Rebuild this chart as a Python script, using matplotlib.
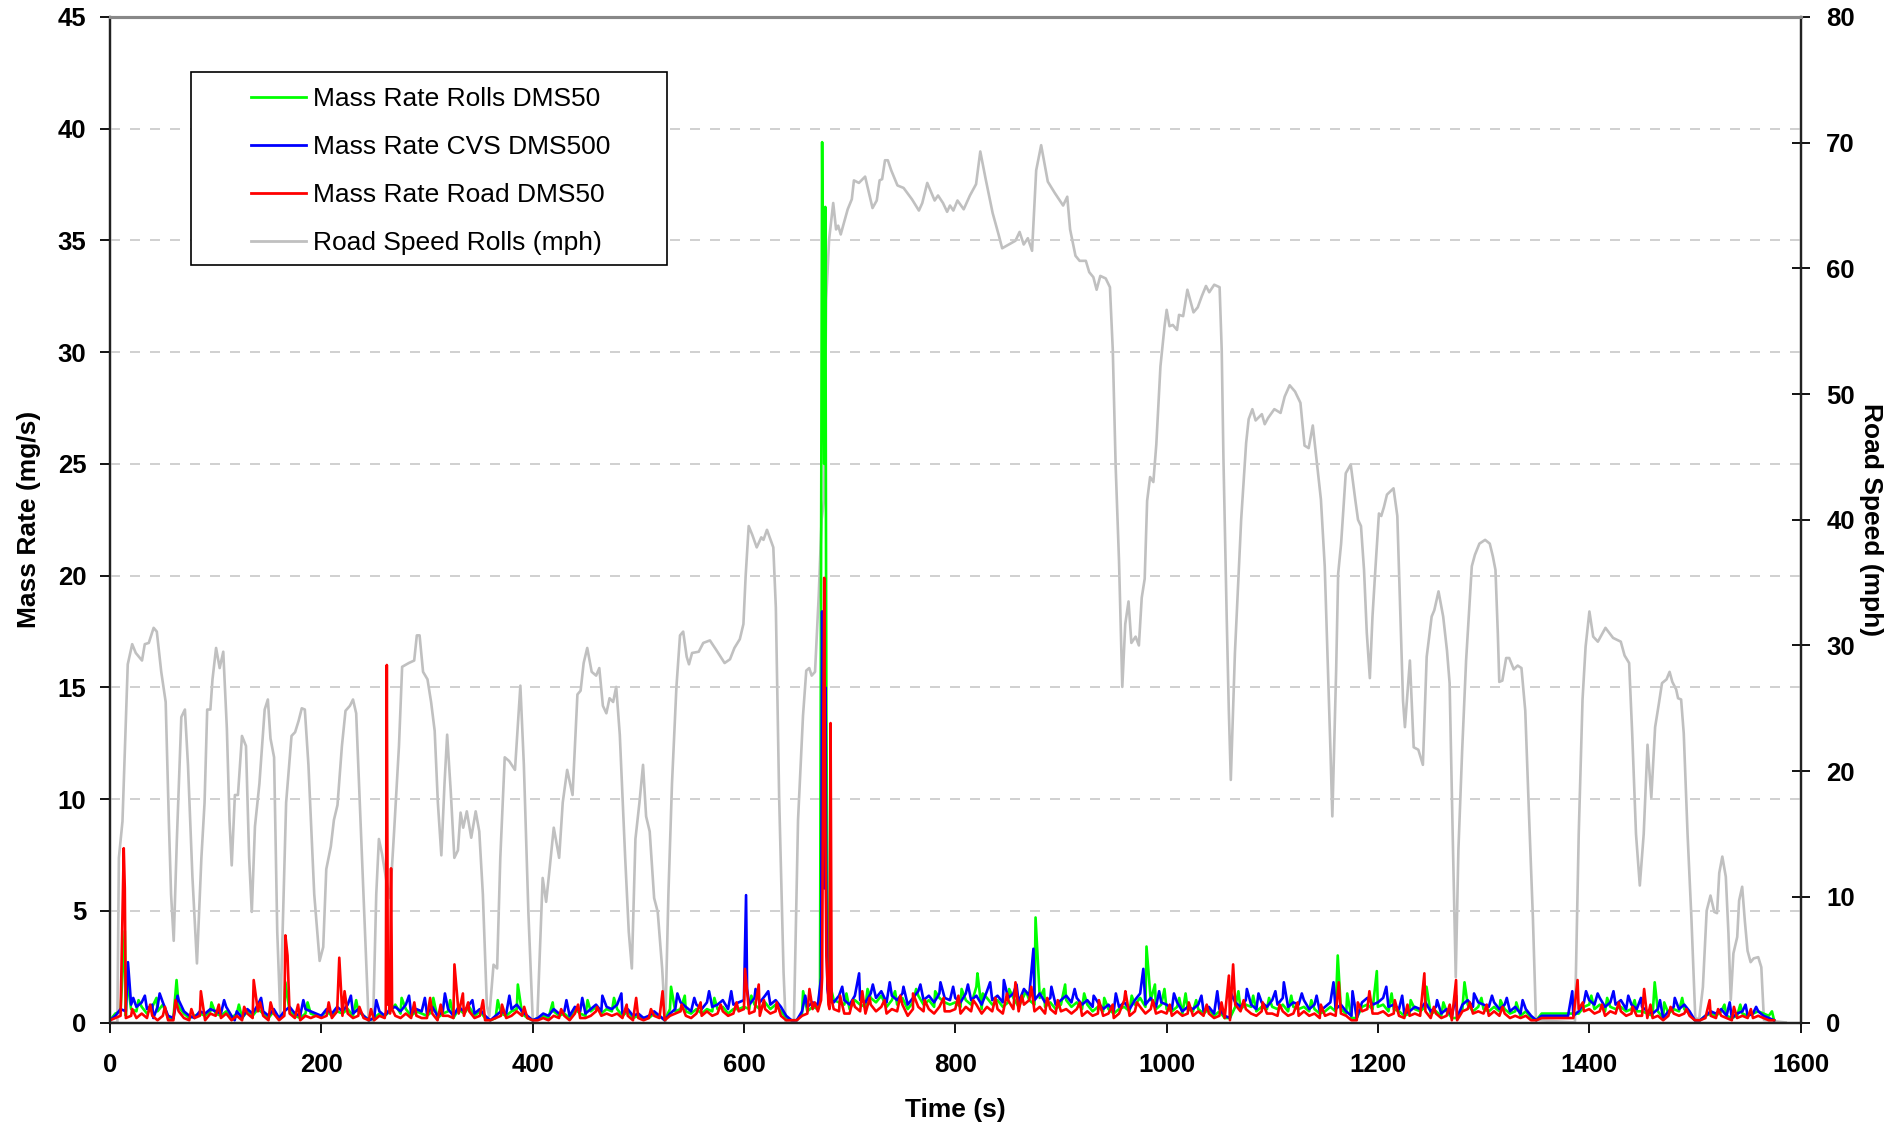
# mass rate (3 instruments) vs road speed over the drive cycle
# dual y axis: mass rate (mg/s) left, road speed (mph) right

import matplotlib
matplotlib.use('Agg')
import matplotlib.pyplot as plt
from matplotlib.patches import Rectangle
import numpy as np

plt.rcParams['font.family'] = ['Liberation Sans', 'DejaVu Sans']

## data

# mass rate base traces, one value every 5 s from t = 0 to 1575 s
step = 5
rolls_dms50 = [
    0.1,0.4,0.5,0.3,0.6,0.5,0.7,0.4,0.7,0.5,0.8,0.2,0.2,0.7,0.4,0.2,0.3,0.4,0.3,0.5,
    0.4,0.3,0.5,0.2,0.4,0.2,0.5,0.3,0.6,0.4,0.2,0.5,0.2,0.4,0.5,0.3,0.2,0.4,0.4,0.3,
    0.3,0.5,0.3,0.5,0.4,0.6,0.3,0.5,0.3,0.1,0.2,0.4,0.3,0.5,0.8,0.4,0.6,0.3,0.5,0.4,
    0.3,0.5,0.2,0.4,0.5,0.2,0.6,0.4,0.7,0.3,0.5,0.2,0.1,0.2,0.4,0.3,0.5,0.6,0.4,0.2,
    0.1,0.2,0.3,0.2,0.5,0.3,0.4,0.2,0.6,0.4,0.3,0.5,0.7,0.4,0.6,0.5,0.6,0.3,0.5,0.2,
    0.3,0.2,0.2,0.4,0.3,0.1,0.6,0.5,0.6,0.5,0.4,0.6,0.4,0.6,0.5,0.6,0.7,0.4,0.6,0.6,
    0.7,0.6,0.8,0.6,0.9,0.6,0.8,0.5,0.2,0.1,0.1,0.4,0.5,0.7,0.6,30.0,2.0,1.0,0.9,0.8,
    0.6,1.0,0.8,0.7,1.1,0.9,1.2,0.7,1.0,0.8,1.1,0.6,0.9,1.2,0.8,1.0,0.7,1.1,0.9,0.8,
    0.9,0.7,1.0,0.8,1.6,0.6,1.1,0.8,1.0,0.7,0.9,1.1,0.7,1.2,1.0,0.8,1.1,0.7,0.9,0.6,
    0.8,1.0,0.7,0.9,0.6,0.8,0.5,0.7,0.5,0.6,0.4,0.6,0.7,0.5,0.8,1.1,0.7,1.0,0.6,0.8,
    0.6,0.5,0.7,0.4,0.6,0.5,0.6,0.4,0.6,0.3,0.5,0.2,0.2,0.7,0.6,0.8,0.7,0.5,0.7,0.6,
    0.7,0.6,0.8,0.5,0.7,0.6,0.7,0.5,0.6,0.4,0.5,0.7,0.5,0.6,0.4,0.2,0.2,0.7,0.8,0.6,
    0.7,0.8,0.5,0.6,0.5,0.3,0.4,0.6,0.5,0.7,0.4,0.5,0.3,0.5,0.2,0.2,0.6,0.8,0.5,0.7,
    0.6,0.5,0.7,0.5,0.6,0.4,0.5,0.3,0.5,0.2,0.1,0.4,0.4,0.4,0.4,0.4,0.4,0.4,0.4,0.7,
    0.8,0.6,0.8,0.5,0.7,0.6,0.7,0.5,0.6,0.5,0.5,0.4,0.3,0.5,0.2,0.4,0.6,0.5,0.6,0.4,
    0.1,0.1,0.3,0.4,0.3,0.5,0.3,0.2,0.3,0.4,0.3,0.4,0.5,0.4,0.3,0.1]
cvs_dms500 = [
    0.1,0.3,0.6,0.5,0.8,0.7,0.9,0.6,0.8,0.7,0.9,0.3,0.2,1.0,0.5,0.3,0.2,0.5,0.4,0.6,
    0.5,0.4,0.7,0.3,0.5,0.2,0.6,0.4,0.8,0.5,0.3,0.6,0.2,0.5,0.7,0.4,0.3,0.6,0.5,0.4,
    0.3,0.6,0.4,0.7,0.5,0.8,0.4,0.6,0.3,0.1,0.2,0.5,0.3,0.6,0.7,0.5,0.8,0.4,0.6,0.5,
    0.4,0.7,0.3,0.5,0.6,0.3,0.7,0.5,0.8,0.4,0.6,0.3,0.1,0.3,0.5,0.4,0.6,0.8,0.5,0.3,
    0.1,0.2,0.4,0.3,0.6,0.4,0.5,0.3,0.7,0.5,0.4,0.6,0.8,0.5,0.7,0.6,0.8,0.4,0.6,0.3,
    0.4,0.2,0.3,0.5,0.3,0.1,0.4,0.6,0.9,0.7,0.5,0.8,0.6,0.9,0.7,0.8,1.0,0.6,0.8,0.9,
    1.0,0.8,1.1,0.9,1.2,0.8,1.0,0.7,0.3,0.1,0.1,0.5,0.7,0.9,0.8,10.0,1.2,0.9,1.2,1.0,
    0.8,1.2,1.0,0.9,1.3,1.1,1.4,0.9,1.2,1.0,1.3,0.8,1.1,1.4,1.0,1.2,0.9,1.3,1.1,1.0,
    1.1,0.9,1.3,1.0,1.2,0.8,1.4,1.0,1.2,0.9,1.1,1.3,0.9,1.5,1.2,1.0,1.3,0.9,1.1,0.8,
    1.0,1.2,0.9,1.1,0.8,1.0,0.7,0.9,0.6,0.8,0.5,0.7,0.9,0.6,1.0,1.3,0.8,1.1,0.7,0.9,
    0.8,0.6,0.9,0.5,0.7,0.6,0.8,0.5,0.7,0.4,0.6,0.3,0.2,0.9,0.7,1.0,0.8,0.6,0.9,0.7,
    1.0,0.8,1.1,0.7,0.9,0.8,1.0,0.6,0.8,0.5,0.7,0.9,0.6,0.8,0.5,0.3,0.2,0.9,1.1,0.8,
    0.9,1.1,0.7,0.8,0.6,0.4,0.5,0.7,0.6,0.9,0.5,0.7,0.4,0.6,0.3,0.2,0.8,1.0,0.7,0.9,
    0.8,0.7,0.9,0.6,0.8,0.5,0.7,0.4,0.6,0.3,0.1,0.3,0.3,0.3,0.3,0.3,0.3,0.3,0.5,0.9,
    1.0,0.8,1.1,0.7,0.9,0.8,1.0,0.6,0.8,0.6,0.7,0.5,0.4,0.6,0.2,0.5,0.7,0.6,0.8,0.5,
    0.1,0.1,0.3,0.5,0.4,0.6,0.3,0.2,0.4,0.5,0.3,0.4,0.5,0.3,0.2,0.1]
road_dms50 = [
    0.1,0.2,0.3,0.2,0.3,0.2,0.4,0.2,0.3,0.1,0.3,0.1,0.1,0.5,0.2,0.1,0.2,0.3,0.1,0.4,
    0.3,0.2,0.4,0.1,0.3,0.1,0.4,0.2,0.5,0.3,0.1,0.4,0.1,0.3,0.4,0.2,0.1,0.3,0.2,0.3,
    0.2,0.3,0.2,0.5,0.3,0.4,0.2,0.3,0.2,0.1,0.1,0.3,0.2,0.4,0.3,0.2,0.4,0.2,0.3,0.2,
    0.2,0.4,0.1,0.3,0.3,0.2,0.4,0.3,0.5,0.2,0.3,0.1,0.1,0.2,0.3,0.2,0.3,0.5,0.3,0.2,
    0.1,0.1,0.2,0.1,0.3,0.2,0.3,0.1,0.4,0.2,0.2,0.3,0.5,0.3,0.4,0.3,0.4,0.2,0.3,0.1,
    0.2,0.1,0.2,0.3,0.2,0.1,0.3,0.4,0.5,0.3,0.2,0.4,0.3,0.5,0.3,0.4,0.5,0.3,0.4,0.5,
    0.6,0.4,0.5,0.3,0.6,0.4,0.5,0.3,0.1,0.1,0.1,0.3,0.4,0.6,0.5,12.0,0.8,0.6,0.5,0.4,
    0.4,0.7,0.5,0.4,0.8,0.5,0.7,0.4,0.6,0.5,0.8,0.3,0.6,0.7,0.5,0.6,0.4,0.7,0.5,0.5,
    0.6,0.4,0.7,0.5,0.8,0.4,0.7,0.5,0.6,0.4,1.0,0.6,0.5,0.8,1.0,0.5,0.7,0.4,0.6,0.4,
    0.5,0.6,0.4,0.6,0.3,0.5,0.3,0.4,0.3,0.4,0.2,0.4,1.0,0.3,0.5,0.7,0.4,0.6,0.4,0.5,
    0.4,0.3,0.5,0.3,0.4,0.3,0.5,0.3,0.4,0.2,0.3,0.2,0.1,0.8,0.5,0.6,0.4,0.3,0.5,0.4,
    0.4,0.3,0.5,0.3,0.4,0.3,0.5,0.3,0.4,0.2,0.3,0.4,0.3,0.4,0.3,0.1,0.1,0.5,0.6,0.4,
    0.4,0.5,0.3,0.4,0.3,0.2,0.3,0.4,0.3,0.5,0.2,0.4,0.2,0.3,0.1,0.1,0.5,0.6,0.4,0.5,
    0.4,0.3,0.5,0.3,0.4,0.2,0.3,0.2,0.3,0.1,0.1,0.2,0.2,0.2,0.2,0.2,0.2,0.2,0.6,0.5,
    0.6,0.4,0.5,0.3,0.5,0.4,0.5,0.3,0.4,0.3,0.3,0.2,0.2,0.3,0.1,0.3,0.4,0.3,0.4,0.3,
    0.1,0.1,0.2,0.3,0.2,0.3,0.2,0.1,0.2,0.3,0.2,0.2,0.3,0.2,0.1,0.1]

# short spikes (time s, mg/s) between the 5 s samples
rolls_spikes = [(14, 4.1), (16, 2.0), (27, 1.0), (44, 1.1), (63, 1.9), (96, 0.9), (122, 0.8),
                (166, 1.8), (187, 0.9), (233, 1.0), (276, 1.1), (306, 1.1), (322, 1.0),
                (367, 1.0), (386, 1.7), (419, 0.9), (452, 1.0), (477, 1.1), (531, 1.6),
                (544, 1.2), (572, 1.1), (607, 1.2), (656, 1.4),
                (672, 1.5), (674, 39.4), (676, 25.0), (677, 36.5), (678, 14.0), (679, 6.0),
                (697, 1.3), (717, 1.5), (743, 1.4), (763, 1.5), (781, 1.4), (806, 1.5),
                (821, 2.2), (826, 1.3), (851, 1.5), (867, 1.4), (876, 4.7), (884, 1.5),
                (904, 1.7), (922, 1.3), (941, 1.1), (967, 1.2), (981, 3.4), (989, 1.7),
                (998, 1.5), (1012, 1.1), (1018, 1.3), (1028, 1.0), (1068, 1.4), (1082, 1.2),
                (1097, 1.1), (1118, 1.2), (1137, 1.0), (1162, 3.0), (1171, 1.3), (1199, 2.3),
                (1213, 1.3), (1231, 1.0), (1246, 1.6), (1262, 0.9), (1282, 1.8), (1298, 1.1),
                (1316, 1.0), (1331, 0.9), (1402, 1.2), (1417, 1.1), (1443, 1.0), (1462, 1.8),
                (1471, 0.9), (1488, 1.1), (1528, 0.8), (1543, 0.8), (1573, 0.5)]
cvs_spikes = [(17, 2.7), (22, 1.1), (33, 1.2), (41, 0.2), (47, 1.3), (64, 1.2), (108, 1.0),
              (118, 0.1), (143, 1.1), (183, 1.0), (228, 1.2), (252, 1.0), (283, 1.2),
              (298, 1.1), (317, 1.3), (343, 1.0), (378, 1.2), (432, 1.0), (447, 1.1),
              (466, 1.2), (484, 1.3), (537, 1.3), (553, 1.1), (567, 1.4), (588, 1.4),
              (602, 5.7), (603, 1.5), (611, 1.5), (623, 1.4), (658, 1.2),
              (673, 2.0), (674, 18.4), (676, 6.0), (677, 15.0), (678, 5.0), (679, 1.5),
              (693, 1.6), (709, 2.2), (722, 1.7), (738, 1.8), (751, 1.6), (767, 1.7),
              (786, 1.8), (798, 1.6), (812, 1.7), (833, 1.8), (846, 1.9), (858, 1.7),
              (874, 3.3), (891, 1.6), (913, 1.5), (931, 1.2), (952, 1.3), (978, 2.4),
              (993, 1.4), (1007, 1.3), (1033, 1.2), (1048, 1.4), (1061, 1.3), (1076, 1.5),
              (1087, 1.3), (1103, 1.4), (1111, 1.8), (1128, 1.3), (1142, 1.2), (1158, 1.8),
              (1176, 1.4), (1191, 1.1), (1208, 1.6), (1223, 1.2), (1256, 1.0), (1274, 1.2),
              (1291, 1.3), (1308, 1.2), (1322, 1.1), (1337, 1.0), (1384, 1.4), (1397, 1.4),
              (1408, 1.3), (1423, 1.4), (1437, 1.2), (1449, 1.1), (1467, 1.0), (1481, 1.1),
              (1533, 0.9), (1548, 0.8), (1558, 0.7)]
road_spikes = [(13, 7.8), (14, 6.0), (21, 0.6), (38, 0.8), (52, 0.7), (62, 1.0), (77, 0.6),
               (86, 1.4), (103, 0.8), (127, 0.7), (136, 1.9), (142, 0.9), (152, 0.9),
               (166, 3.9), (168, 3.0), (178, 0.8), (207, 0.9), (217, 2.9), (222, 1.4),
               (236, 0.7), (247, 0.6),
               (261, 0.5), (262, 16.0), (263, 0.8), (264, 1.0), (266, 6.9), (267, 0.6),
               (288, 0.9), (303, 1.1), (313, 0.8), (326, 2.6), (334, 1.3), (339, 0.9),
               (353, 1.0), (371, 0.8), (392, 0.7), (427, 0.6), (443, 0.8), (461, 0.7),
               (489, 0.8), (498, 1.1), (512, 0.6), (523, 1.4), (541, 0.8), (559, 0.9),
               (578, 0.8), (593, 0.9), (601, 2.4), (614, 1.7), (619, 1.0), (631, 0.9),
               (662, 1.5), (667, 0.9),
               (673, 1.0), (674, 2.0), (676, 19.9), (677, 9.0), (678, 3.0),
               (681, 0.6), (682, 13.4), (683, 1.0),
               (691, 1.2), (703, 1.0), (712, 1.4), (719, 1.1), (733, 1.0), (748, 1.2),
               (760, 1.3), (771, 1.0), (789, 1.1), (803, 1.2), (817, 1.0), (838, 1.1),
               (849, 1.3), (857, 1.8), (863, 1.2), (872, 1.6), (887, 1.1), (897, 1.0),
               (918, 0.9), (936, 1.0), (949, 0.8), (961, 1.4), (972, 0.9), (987, 1.0),
               (1003, 0.8), (1021, 0.9), (1038, 0.8), (1052, 0.9), (1059, 2.1), (1063, 2.6),
               (1073, 1.0), (1091, 0.9), (1107, 0.8), (1124, 0.9), (1146, 0.8), (1163, 1.8),
               (1181, 0.9), (1192, 1.4), (1216, 1.0), (1228, 0.8), (1244, 2.2), (1253, 0.7),
               (1268, 0.8), (1274, 1.9), (1287, 0.9), (1303, 0.8), (1318, 0.7), (1389, 1.9),
               (1394, 0.9), (1412, 0.8), (1428, 0.9), (1441, 0.7), (1452, 1.5), (1458, 0.8),
               (1477, 0.7), (1492, 0.6), (1514, 1.0), (1522, 0.6), (1537, 0.7), (1553, 0.6)]

# road speed trace (time s, mph)
speed_t = [0, 7, 8.4, 11.8, 16.8, 21, 24.4, 30.3, 32.9, 36.7, 41.3, 44.3, 48.5, 52.7, 55.7,
           57.8, 60.3, 63.3, 67.5, 70.9, 73.8, 78, 82.3, 86.5, 89.5, 92, 95, 97, 100.4,
           103.8, 107.2, 110.6, 113.1, 115.2, 118.2, 121.1, 124.9, 128.7, 131.7, 134.2,
           137.2, 141.4, 146.4, 149.4, 151.9, 155.3, 158.3, 161.2, 166.7, 171.8, 175.2,
           178.5, 181.5, 184.4, 187.8, 193.3, 198.4, 201.8, 204.7, 209, 211.9, 215.3,
           219.5, 222.9, 227.1, 230, 233, 236.4, 240.6, 244.8, 249, 252, 254.5, 257.5,
           261.7, 265.1, 268.9, 273.5, 276.5, 282.8, 287.9, 290.4, 293, 296.3, 300.5,
           303.9, 307.3, 310.3, 313.6, 316.6, 319.1, 322.5, 325.9, 329.3, 331.8, 334.3,
           337.7, 341.9, 346.1, 349.5, 352.9, 356.7, 359, 363, 366.4, 369.4, 373.6,
           377.8, 383.3, 388.4, 391.7, 396, 400.2, 404.4, 409.5, 412.8, 415.8, 420,
           425.1, 428.5, 432.7, 437.8, 442.4, 445.4, 448.3, 451.7, 455.9, 460.1, 463.1,
           466.5, 469.8, 472.8, 476.2, 479.1, 482.5, 487.6, 491, 493.9, 497.3, 501.1,
           504.5, 507.4, 510.8, 515, 518.4, 522.6, 525.6, 528.5, 531.9, 536.1, 539.5,
           542.5, 545.8, 548, 550.9, 557.2, 561.5, 567.8, 574.1, 581.7, 586.8, 591,
           596.1, 599.5, 601.6, 604.5, 607.9, 612.1, 616.4, 618.5, 621.8, 624.8, 627.8,
           630.2, 633.3, 637.5, 639.5, 647.3, 651.2, 655.9, 659, 661.8, 664.1, 667.3,
           670.8, 673.5, 675.9, 677.8, 680.6, 684.5, 687.2, 689.2, 691.6, 695.5, 698.2,
           702.1, 704.1, 708.8, 714.7, 721.7, 725.7, 728.4, 730.8, 733.5, 736.2, 739.4,
           745.3, 751.1, 759, 765.6, 768.8, 773.5, 780.5, 783.7, 788.4, 792.3, 795,
           798.2, 802.1, 808, 813.9, 819.7, 823.7, 828.8, 835.4, 841.3, 844.4, 857,
           860.9, 864.8, 868.7, 872.7, 876.6, 881.3, 887.6, 894.2, 902.1, 906, 908.7,
           913.8, 917.7, 923.6, 926.8, 930.7, 933.8, 937.3, 942.4, 946.4, 949.1, 951.8,
           955, 958.1, 960.9, 964, 966.7, 970.7, 973.8, 976.5, 979.3, 981.6, 984.4,
           987.5, 990.3, 994.2, 998.1, 1000.1, 1002.8, 1005.9, 1009.9, 1011.8, 1015.7,
           1019.7, 1025.5, 1029.5, 1033.4, 1037.3, 1040.4, 1045.1, 1050.2, 1052.2,
           1053.8, 1056.9, 1058.9, 1060.8, 1064.7, 1070.6, 1075.3, 1077.7, 1081.2,
           1084.3, 1090.2, 1092.9, 1096.1, 1102, 1107.9, 1111.8, 1116.5, 1121.6, 1126.7,
           1130.6, 1134.5, 1138.4, 1142.3, 1146.1, 1149.7, 1152.2, 1155.1, 1156.9,
           1160.5, 1162.4, 1165.2, 1169.6, 1174.3, 1178.6, 1181.2, 1184, 1186.9, 1189.5,
           1192.4, 1194.9, 1197.8, 1201, 1203.2, 1205.7, 1208.6, 1214.8, 1218.4, 1220.9,
           1223.8, 1225.6, 1230.3, 1233.9, 1238.3, 1242.6, 1246.2, 1250.9, 1253.4,
           1257.4, 1261.8, 1265.4, 1267.9, 1270.8, 1273.7, 1276.2, 1279.8, 1283.5, 1286,
           1288.9, 1291.8, 1296.1, 1301.5, 1305.9, 1308.8, 1311.3, 1313.5, 1314.9,
           1317.8, 1321.4, 1324.3, 1328.6, 1332.3, 1335.9, 1339.5, 1343.1, 1346.7,
           1349.6, 1386.5, 1390.1, 1393.7, 1396.6, 1400.2, 1403.8, 1408.2, 1415.4,
           1422.6, 1429.9, 1433.5, 1437.8, 1440.7, 1444.3, 1447.9, 1451.6, 1455.2,
           1458.8, 1462.4, 1466, 1468.9, 1473.2, 1476.1, 1478.7, 1482.3, 1484.1, 1487,
           1489.5, 1493.1, 1496.7, 1500.4, 1504, 1507.6, 1511.2, 1514.8, 1518.4, 1521,
           1523.1, 1526, 1529.3, 1531.8, 1534, 1536.5, 1540.1, 1541.9, 1544.8, 1547.3,
           1549.9, 1552.8, 1555.7, 1560, 1562.9, 1565.4, 1586]
speed_mph = [0, 0, 13.1, 16, 28.5, 30.1, 29.4, 28.8, 30.1, 30.2, 31.4, 31.1, 27.9, 25.5, 16,
             10.2, 6.5, 14.6, 24.3, 24.9, 20.5, 11.6, 4.7, 13.1, 17.5, 24.9, 24.9, 27.3, 29.8,
             28.2, 29.5, 23.4, 16.1, 12.5, 18.1, 18.1, 22.8, 22, 13.1, 8.8,
             15.6, 19, 24.9, 25.7, 22.6, 21.1, 7.2, 0.5, 17.5, 22.8, 23.1,
             24, 25, 24.9, 20.5, 10.2, 4.9, 6, 12.2, 14, 16.1, 17.3,
             22, 24.8, 25.2, 25.7, 24.6, 17.5, 8.7, 0, 0, 10.2, 14.6, 13.4,
             11.2, 9.9, 15.2, 22, 28.3, 28.6, 28.8, 30.8, 30.8, 27.9, 27.3,
             25.5, 23.2, 17.5, 13.3, 19, 22.9, 18.4, 13.1, 13.7, 16.7, 15.5,
             16.8, 14.7, 16.8, 15.2, 10.2, 1.3, 0.5, 4.6, 4.3, 13.1, 21.1,
             20.8, 20.1, 26.8, 20.5, 8.7, 0, 0.2, 11.5, 9.6, 12, 15.5,
             13.1, 17.5, 20.1, 18.1, 26.1, 26.4, 28.6, 29.8, 27.9, 27.6, 28.2,
             25.2, 24.6, 25.8, 25.5, 26.7, 22.9, 13.1, 7.2, 4.3, 14.6, 17.5,
             20.5, 16.4, 15.2, 9.9, 8.8, 4.3, 0, 10.2, 19, 26.7, 30.8,
             31.1, 29.1, 28.5, 29.4, 29.5, 30.2, 30.4, 29.6, 28.6, 28.9, 29.8,
             30.5, 31.7, 35.5, 39.5, 38.8, 37.8, 38.6, 38.4, 39.2, 38.5, 37.8,
             33, 18, 4, 0, 0, 16.1, 24.4, 28, 28.2, 27.6, 27.9,
             34, 40, 41.6, 57.5, 62.3, 65.2, 63.1, 63.4, 62.7, 63.9, 64.7,
             65.5, 67, 66.8, 67.3, 64.8, 65.4, 67, 67.1, 68.6, 68.6, 67.8,
             66.6, 66.4, 65.5, 64.6, 65.2, 66.8, 65.4, 65.8, 65.2, 64.5, 65,
             64.6, 65.4, 64.7, 65.8, 66.7, 69.3, 67.1, 64.4, 62.6, 61.6, 62.2,
             62.9, 61.9, 62.4, 61.4, 67.8, 69.8, 66.9, 66, 65, 65.7, 63.1,
             61, 60.6, 60.6, 59.7, 59.3, 58.3, 59.4, 59.2, 58.5, 53.5, 44.3,
             36.7, 26.7, 31.7, 33.5, 30.2, 30.7, 30, 33.8, 35.3, 41.5, 43.4,
             43, 46, 52.2, 55.4, 56.7, 55.4, 55.5, 55.1, 56.3, 56.2,
             58.3, 56.5, 56.9, 57.8, 58.6, 58.1, 58.7, 58.5, 53.5,
             45, 32.3, 24.9, 19.3, 29.4, 40, 46.1, 48, 48.8,
             47.9, 48.4, 47.6, 48.1, 48.8, 48.5, 49.8, 50.7, 50.2, 49.3,
             45.9, 45.7, 47.5, 44.5, 41.6, 36.3, 29.6, 21.7, 16.4,
             28, 35.7, 38.1, 43.7, 44.4, 41.6, 40, 39.5, 36, 31,
             27.4, 32.3, 36.3, 40.5, 40.3, 41, 42, 42.5, 40.3, 33.6,
             25.6, 23.5, 28.8, 21.9, 21.7, 20.5, 29.1, 32.3, 32.8,
             34.3, 32.3, 29.6, 27, 15, 3.6, 13.7, 21.7, 28.8, 32.3,
             36.3, 37.2, 38.1, 38.4, 38.1, 37.1, 36, 31, 27.1,
             27.2, 29, 29, 28.1, 28.4, 28.2, 24.8, 16.4, 8.4,
             0.2, 0, 15, 25.7, 29.9, 32.7, 30.7, 30.3, 31.4,
             30.6, 30.3, 29.2, 28.6, 23, 15, 10.9, 15, 22.1,
             17.9, 23.5, 25.4, 27, 27.3, 27.9, 27.1, 26.5, 25.8, 25.7,
             23, 15, 8.4, 0.4, 0.2, 2.8, 8.9, 10.1, 8.8, 8.7,
             11.9, 13.2, 11.6, 7.1, 1.8, 5.5, 6.8, 9.7, 10.8, 8.1,
             5.7, 4.8, 5.1, 5.2, 4.4, 0.2, 0]


def merge_trace(base, spikes):
    # put the 5 s samples and the spike samples together in time order
    t = [i * step for i in range(len(base))] + [s[0] for s in spikes]
    v = list(base) + [s[1] for s in spikes]
    order = np.argsort(t, kind='stable')
    return np.array(t)[order], np.array(v)[order]


## plotting

fig = plt.figure(figsize=(18.92, 11.25), dpi=100)
ax = fig.add_axes([0.05814, 0.09111, 0.8935, 0.89378])
ax2 = ax.twinx()

lw = 1.9
ax2.plot(speed_t, speed_mph, color='#c0c0c0', lw=lw, label='Road Speed Rolls (mph)')
t, v = merge_trace(rolls_dms50, rolls_spikes)
l1, = ax.plot(t, v, color='#00ff00', lw=lw, label='Mass Rate Rolls DMS50')
t, v = merge_trace(cvs_dms500, cvs_spikes)
l2, = ax.plot(t, v, color='#0000ff', lw=lw, label='Mass Rate CVS DMS500')
t, v = merge_trace(road_dms50, road_spikes)
l3, = ax.plot(t, v, color='#ff0000', lw=lw, label='Mass Rate Road DMS50')
l4 = ax2.get_lines()[0]

# mass rate axis on top of speed axis
ax.set_zorder(ax2.get_zorder() + 1)
ax.patch.set_visible(False)

ax.set_xlim(0, 1600)
ax.set_ylim(0, 45)
ax2.set_ylim(0, 80)
ax.set_xticks(range(0, 1601, 200))
ax.set_yticks(range(0, 46, 5))
ax2.set_yticks(range(0, 81, 10))

for y in range(5, 45, 5):
    ax.axhline(y, color='#c8c8c8', lw=1.2, ls=(0, (6, 6)), zorder=0)

tick_font = dict(fontsize=18.5, fontweight='bold')
ax.set_xticklabels([str(x) for x in range(0, 1601, 200)], **tick_font)
ax.set_yticklabels([str(y) for y in range(0, 46, 5)], **tick_font)
ax2.set_yticklabels([str(y) for y in range(0, 81, 10)], **tick_font)

ax.tick_params(axis='x', direction='out', length=7, width=1.3, pad=15)
ax.tick_params(axis='y', direction='out', length=7, width=1.3, pad=10)
ax2.tick_params(axis='y', direction='inout', length=13, width=1.3, pad=12)

for a in (ax, ax2):
    for side in ('left', 'right', 'bottom'):
        a.spines[side].set_color('#222222')
        a.spines[side].set_linewidth(1.6)
    a.spines['top'].set_color('#888888')
    a.spines['top'].set_linewidth(2.2)

ax.set_xlabel('Time (s)', fontsize=19, fontweight='bold', labelpad=15)
ax.set_ylabel('Mass Rate (mg/s)', fontsize=19, fontweight='bold', labelpad=12)
ax2.set_ylabel('Road Speed (mph)', fontsize=19, fontweight='bold', rotation=270, labelpad=20)

# legend box drawn by hand (wide side padding)
fig.patches.append(Rectangle((191 / 1892, 1 - 265 / 1125), 476 / 1892, 193 / 1125,
                             transform=fig.transFigure, facecolor='white',
                             edgecolor='black', lw=1.2, zorder=5))
leg = fig.legend([l1, l2, l3, l4], [l.get_label() for l in (l1, l2, l3, l4)],
                 loc='upper left', bbox_to_anchor=(251 / 1892, 1 - 87 / 1125),
                 frameon=False, fontsize=19, handlelength=2.1, handletextpad=0.25,
                 labelspacing=0.91, borderpad=0, borderaxespad=0)
leg.set_zorder(6)
for h in leg.get_lines():
    h.set_linewidth(2)

fig.savefig('out.png', dpi=100)
